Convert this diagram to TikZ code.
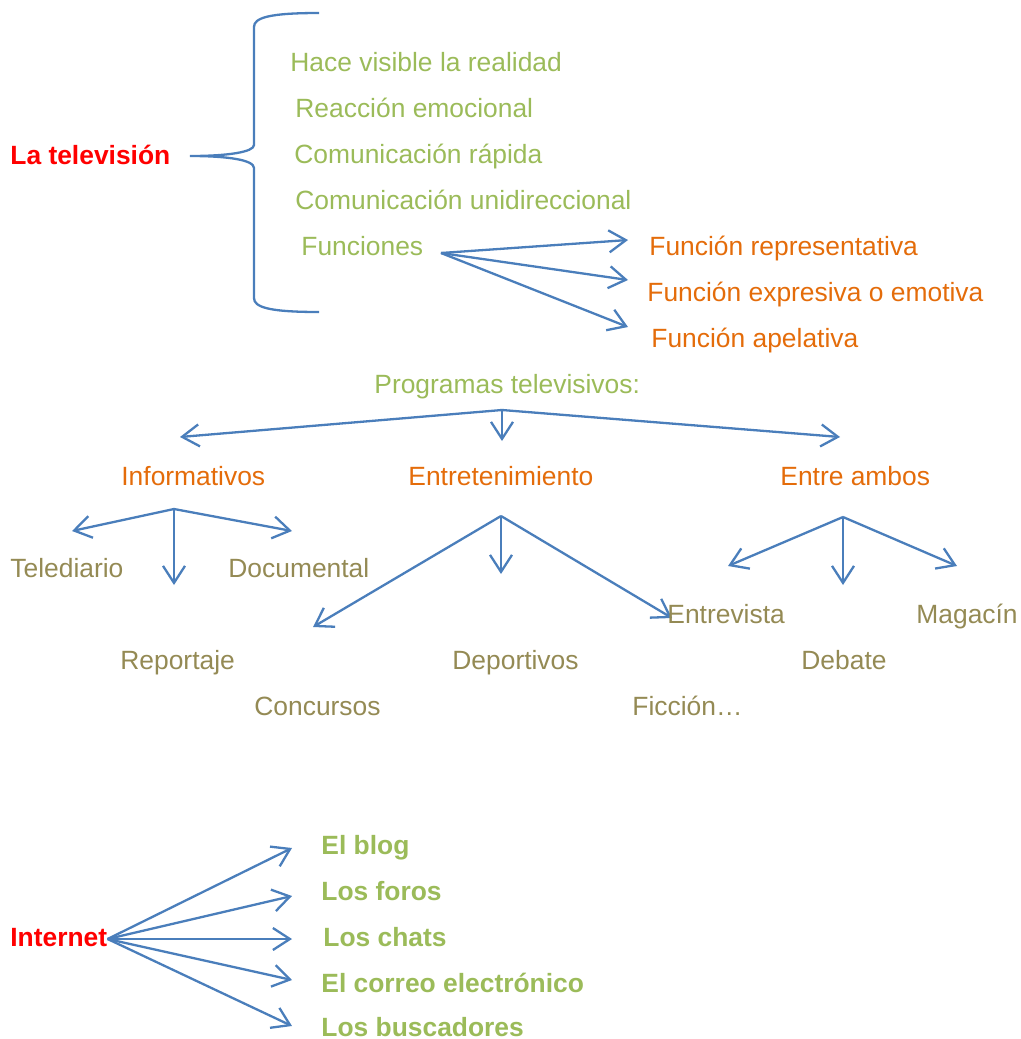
\documentclass[tikz,border=0pt]{standalone}
\usepackage{fontspec}
\setmainfont{Liberation Sans}
\usepackage{xcolor}
\usetikzlibrary{arrows.meta}
\definecolor{tvred}{HTML}{FF0000}
\definecolor{tvgreen}{HTML}{9BBB59}
\definecolor{tvorange}{HTML}{E46C0A}
\definecolor{tvbrown}{HTML}{948A54}
\definecolor{tvblue}{HTML}{4A7EBB}

\begin{document}
\begin{tikzpicture}[x=0.5pt,y=-0.5pt]
    \tikzstyle{e} = [draw, tvblue, line width=1.15pt, -{Straight Barb[length=8.5pt,width=11pt]}]
    \tikzstyle{tx} = [anchor=west, inner sep=0pt, yshift=-1pt, text height=.716em, text depth=0pt, font=\fontsize{13.2}{16}\selectfont]
    \tikzstyle{gt} = [tx, text=tvgreen]
    \tikzstyle{ot} = [tx, text=tvorange]
    \tikzstyle{bt} = [tx, text=tvbrown]
    \tikzstyle{rt} = [tx, text=tvred, font=\fontsize{13.2}{16}\selectfont\bfseries]
    \tikzstyle{gb} = [gt, font=\fontsize{13.2}{16}\selectfont\bfseries]
    \useasboundingbox (0,0) rectangle (1021,1039);
    % la television
    \begin{scope}
        \node[rt] (tv) at (10,155) {La televisión};
        \draw[tvblue, line width=1.15pt] (319,13) .. controls (268,13) and (254,18) .. (254,27)
            -- (254,145) .. controls (254,152) and (228,156) .. (190,156)
            .. controls (228,156) and (254,160) .. (254,168)
            -- (254,298) .. controls (254,307) and (268,312) .. (319,312);
        \node[gt] (vis) at (290,62) {Hace visible la realidad};
        \node[gt] (rea) at (295,108) {Reacción emocional};
        \node[gt] (rap) at (294,154) {Comunicación rápida};
        \node[gt] (uni) at (295,200) {Comunicación unidireccional};
        \node[gt] (fun) at (301,246) {Funciones};
        \node[ot] (f1) at (649,246) {Función representativa};
        \node[ot] (f2) at (647,292) {Función expresiva o emotiva};
        \node[ot] (f3) at (651,338) {Función apelativa};
        \coordinate (fun-h) at (441,253);
        \coordinate (f1-a) at (628,240);
        \coordinate (f2-a) at (628,280);
        \coordinate (f3-a) at (628,327);
        \draw [e] (fun-h) -- (f1-a);
        \draw [e] (fun-h) -- (f2-a);
        \draw [e] (fun-h) -- (f3-a);
    \end{scope}
    % programas
    \begin{scope}
        \node[gt] (prog) at (374,384) {Programas televisivos:};
        \node[ot] (inf) at (121,476) {Informativos};
        \node[ot] (ent) at (408,476) {Entretenimiento};
        \node[ot] (amb) at (780,476) {Entre ambos};
        \coordinate (prog-h) at (502,410);
        \coordinate (inf-a) at (180,437);
        \coordinate (ent-a) at (502,441);
        \coordinate (amb-a) at (840,437);
        \draw [e] (prog-h) -- (inf-a);
        \draw [e] (prog-h) -- (ent-a);
        \draw [e] (prog-h) -- (amb-a);
        \node[bt] (tel) at (10,568) {Telediario};
        \node[bt] (doc) at (228,568) {Documental};
        \node[bt] (rep) at (120,660) {Reportaje};
        \coordinate (inf-h) at (174,509);
        \coordinate (tel-a) at (72,531);
        \coordinate (rep-a) at (174,585);
        \coordinate (doc-a) at (292,531);
        \draw [e] (inf-h) -- (tel-a);
        \draw [e] (inf-h) -- (rep-a);
        \draw [e] (inf-h) -- (doc-a);
        \node[bt] (con) at (254,706) {Concursos};
        \node[bt] (dep) at (452,660) {Deportivos};
        \node[bt] (fic) at (632,706) {Ficción…};
        \coordinate (ent-h) at (501,516);
        \coordinate (con-a) at (313,627);
        \coordinate (dep-a) at (501,574);
        \coordinate (fic-a) at (672,618);
        \draw [e] (ent-h) -- (con-a);
        \draw [e] (ent-h) -- (dep-a);
        \draw [e] (ent-h) -- (fic-a);
        \node[bt] (etv) at (667,614) {Entrevista};
        \node[bt] (deb) at (801,660) {Debate};
        \node[bt] (mag) at (916,614) {Magacín};
        \coordinate (amb-h) at (843,517);
        \coordinate (etv-a) at (728,566);
        \coordinate (deb-a) at (843,585);
        \coordinate (mag-a) at (957,566);
        \draw [e] (amb-h) -- (etv-a);
        \draw [e] (amb-h) -- (deb-a);
        \draw [e] (amb-h) -- (mag-a);
    \end{scope}
    % internet
    \begin{scope}
        \node[rt] (int) at (10,937) {Internet};
        \node[gb] (blog) at (321,845) {El blog};
        \node[gb] (foro) at (321,891) {Los foros};
        \node[gb] (chat) at (323,937) {Los chats};
        \node[gb] (mail) at (321,983) {El correo electrónico};
        \node[gb] (busc) at (321,1027) {Los buscadores};
        \coordinate (blog-a) at (292,848);
        \coordinate (foro-a) at (292,896);
        \coordinate (chat-a) at (292,939);
        \coordinate (mail-a) at (292,980);
        \coordinate (busc-a) at (292,1026);
        \draw [e] (int.east) -- (blog-a);
        \draw [e] (int.east) -- (foro-a);
        \draw [e] (int.east) -- (chat-a);
        \draw [e] (int.east) -- (mail-a);
        \draw [e] (int.east) -- (busc-a);
    \end{scope}
\end{tikzpicture}
\end{document}
